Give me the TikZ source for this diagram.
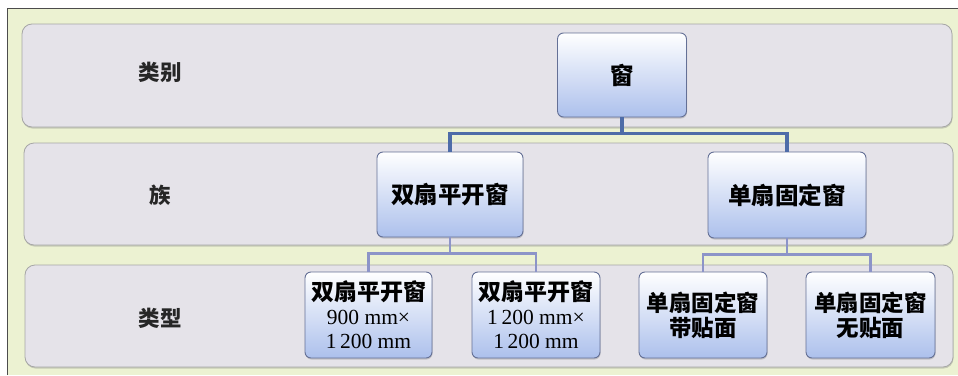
\documentclass[tikz,border=0pt]{standalone}
\usepackage{fontspec}
\usetikzlibrary{shadows}
\setmainfont{Liberation Serif}
\newfontfamily\cjk{Noto Sans CJK SC}
\definecolor{bgc}{RGB}{236,242,210}
\definecolor{bandc}{RGB}{229,227,233}
\definecolor{boxblue}{RGB}{172,192,236}
\definecolor{boxborder}{RGB}{100,112,150}
\definecolor{linec}{RGB}{78,108,168}
\definecolor{linec2}{RGB}{140,148,200}
\begin{document}
\begin{tikzpicture}[x=1pt,y=-1pt,
  band/.style={draw=black!35, fill=bandc, rounded corners=10pt, line width=0.8pt,
    drop shadow={opacity=0.35, shadow xshift=0.5pt, shadow yshift=-1.5pt}},
  box/.style={draw=boxborder, line width=0.9pt, rounded corners=6pt, top color=white, bottom color=boxblue, minimum height=86pt, align=center, inner sep=2pt,
    drop shadow={opacity=0.35, shadow xshift=0.5pt, shadow yshift=-1.5pt}},
  cjkt/.style={font=\cjk\bfseries\fontsize{23.5}{25}\selectfont},
  typec/.style={font=\cjk\bfseries\fontsize{22.5}{25}\selectfont},
  typet/.style={font=\fontsize{21.5}{24}\selectfont},
  lab/.style={font=\cjk\bfseries\fontsize{21.5}{24}\selectfont, text=black!85},
  conn/.style={draw=linec, line width=3.5pt},
  conn2/.style={draw=linec2, line width=2.5pt}]
\useasboundingbox (0,0) rectangle (958,375);
\fill[white] (0,0) rectangle (958,375);
\fill[bgc] (7,8) rectangle (958,375);
\draw[black!70, line width=1pt] (7,375) -- (7,8) -- (958,8);
% bands
\draw[band] (22,24) rectangle (952,127);
\draw[band] (24,143) rectangle (953,245);
\draw[band] (25,265) rectangle (953,367);
% labels
\node[lab] (l1) at (160,72) {类别};
\node[lab] (l2) at (160,195) {族};
\node[lab] (l3) at (160,318) {类型};
% nodes
\node[box, cjkt, minimum width=129pt, minimum height=84pt] (root) at (622,75) {窗};
\node[box, cjkt, minimum width=146pt, minimum height=85pt] (f1) at (450,194.5) {双扇平开窗};
\node[box, cjkt, minimum width=158pt] (f2) at (787,195) {单扇固定窗};
\node[box, typet, minimum width=127pt] (t1) at (368.5,315) {{\cjk\bfseries\fontsize{23}{24}\selectfont 双扇平开窗}\\900 mm×\\1\,200 mm};
\node[box, typet, minimum width=128pt] (t2) at (536,315) {{\cjk\bfseries\fontsize{23}{24}\selectfont 双扇平开窗}\\1\,200 mm×\\1\,200 mm};
\node[box, typec, minimum width=128pt] (t3) at (703,315) {单扇固定窗\\带贴面};
\node[box, typec, minimum width=129pt] (t4) at (870.5,315) {单扇固定窗\\无贴面};
% connectors
\draw[conn] (root.south) -- ++(0,16) -| (f1.north);
\draw[conn] (root.south) -- ++(0,16) -| (f2.north);
\draw[conn2] (f1.south) -- ++(0,16) -| (t1.north);
\draw[conn2] (f1.south) -- ++(0,16) -| (t2.north);
\draw[conn2] (f2.south) -- ++(0,16) -| (t3.north);
\draw[conn2] (f2.south) -- ++(0,16) -| (t4.north);
\end{tikzpicture}
\end{document}
